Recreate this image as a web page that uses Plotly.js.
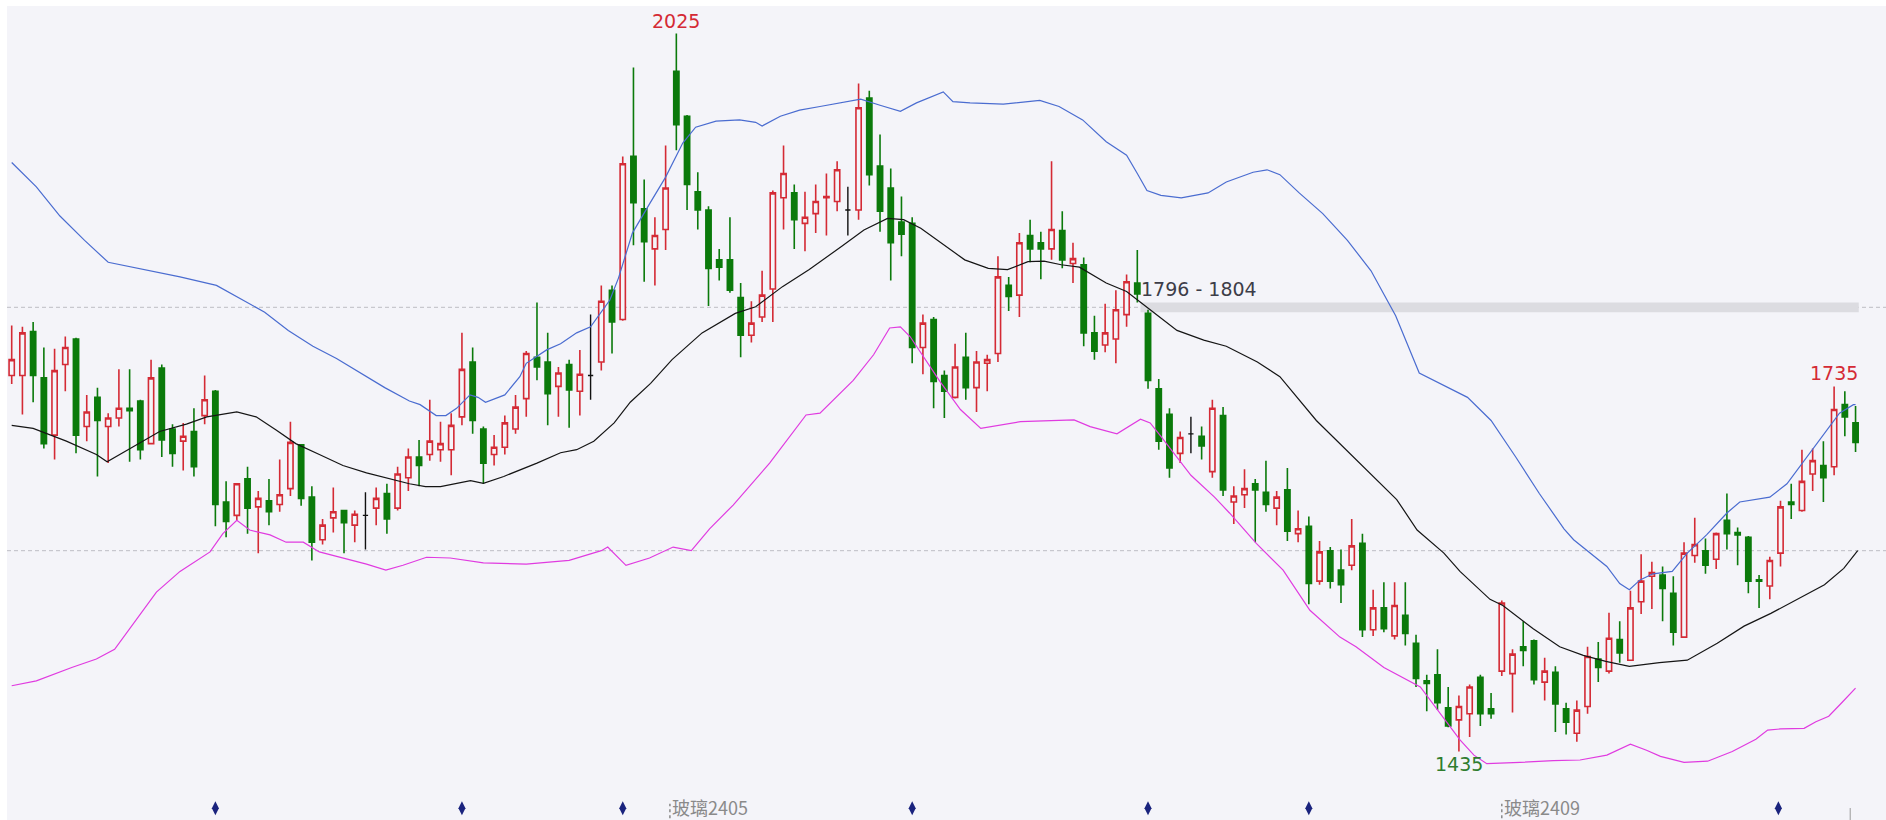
<!DOCTYPE html>
<html>
<head>
<meta charset="utf-8">
<script src="https://cdn.plot.ly/plotly-3.0.1.min.js"></script>
<style>html,body{margin:0;padding:0;background:#ffffff;}#chart{width:1886px;height:820px;}</style>
</head>
<body>
<div id="chart"></div>
<script>
// ---- candle data (index 0..172) ----
var openP = [1744,1744,1780,1742,1695,1753,1774,1702,1726,1702,1709,1717,1723,1688,1750,1700,1690,1698,1711,1731,
1640,1629,1659,1636,1641,1638,1651,1687,1644,1609,1627,1633,1621,1629,1635,1647,1635,1660,1677,1679,
1683,1683,1710,1755,1700,1679,1685,1700,1725,1759,1755,1735,1753,1731,1744,1755,1814,1790,1924,1881,
1848,1864,1994,1957,1895,1880,1839,1839,1808,1777,1792,1815,1890,1894,1869,1877,1890,1887,1880,1880,
1972,1916,1898,1870,1869,1767,1790,1744,1726,1759,1734,1754,1762,1818,1810,1859,1853,1848,1863,1836,
1835,1779,1769,1774,1794,1820,1795,1733,1712,1680,1696,1694,1665,1711,1640,1646,1655,1648,1635,1650,
1614,1620,1575,1600,1584,1588,1606,1535,1553,1530,1547,1524,1493,1498,1471,1461,1466,1496,1470,1501,
1499,1521,1526,1492,1500,1470,1450,1472,1511,1501,1527,1510,1558,1579,1580,1565,1529,1596,1600,1593,
1625,1615,1611,1576,1571,1598,1640,1633,1663,1670,1669,1720,1705];
var highP = [1785,1784,1788,1767,1766,1776,1775,1728,1734,1713,1749,1749,1724,1757,1753,1704,1705,1717,1744,1732,
1657,1655,1669,1649,1659,1675,1706,1687,1653,1626,1652,1633,1633,1648,1652,1655,1669,1684,1691,1724,
1706,1713,1779,1767,1702,1695,1711,1728,1764,1804,1779,1751,1757,1765,1794,1818,1818,1924,1997,1905,
1874,1933,2025,1958,1911,1883,1848,1874,1820,1805,1830,1896,1933,1901,1895,1901,1910,1920,1899,1984,
1978,1942,1914,1891,1874,1794,1792,1748,1770,1779,1764,1761,1842,1825,1861,1872,1862,1920,1879,1853,
1841,1793,1803,1814,1827,1847,1798,1741,1717,1698,1710,1702,1724,1718,1653,1667,1659,1674,1649,1668,
1633,1628,1608,1603,1601,1626,1614,1568,1574,1574,1574,1531,1498,1519,1488,1481,1490,1498,1483,1559,
1519,1542,1527,1512,1505,1475,1477,1521,1525,1549,1542,1567,1597,1591,1587,1579,1607,1627,1610,1615,
1647,1619,1612,1580,1595,1641,1655,1683,1684,1690,1735,1731,1719];
var lowP = [1737,1712,1722,1684,1675,1731,1680,1690,1661,1672,1702,1673,1675,1688,1677,1669,1666,1661,1704,1620,
1611,1625,1614,1598,1621,1632,1645,1637,1592,1605,1615,1598,1607,1601,1621,1614,1633,1649,1653,1674,
1673,1662,1703,1696,1655,1670,1679,1696,1710,1740,1703,1710,1701,1711,1724,1748,1762,1789,1851,1821,
1818,1847,1929,1880,1864,1801,1822,1812,1759,1771,1788,1788,1864,1848,1846,1861,1859,1879,1859,1872,
1900,1862,1822,1842,1754,1745,1717,1709,1725,1724,1714,1731,1755,1797,1792,1837,1823,1839,1832,1820,
1768,1757,1763,1754,1784,1804,1733,1683,1660,1672,1680,1675,1660,1645,1622,1635,1607,1632,1621,1608,
1607,1556,1572,1569,1557,1584,1529,1530,1533,1527,1522,1488,1468,1469,1455,1435,1447,1456,1462,1497,
1467,1505,1490,1477,1451,1449,1443,1466,1492,1499,1508,1510,1548,1552,1542,1522,1529,1590,1581,1585,
1601,1588,1565,1553,1560,1587,1626,1632,1649,1640,1662,1694,1681];
var closeP = [1757,1779,1744,1688,1748,1767,1695,1714,1707,1709,1717,1715,1683,1742,1691,1680,1694,1669,1724,1638,
1624,1655,1635,1643,1632,1646,1689,1643,1607,1621,1632,1623,1630,1629,1643,1626,1663,1677,1670,1690,
1688,1703,1749,1707,1672,1685,1705,1718,1762,1751,1729,1746,1732,1745,1744,1805,1788,1918,1886,1854,
1859,1898,1950,1901,1880,1832,1833,1814,1777,1787,1810,1894,1910,1872,1874,1887,1891,1913,1880,1964,
1909,1879,1853,1860,1767,1787,1739,1731,1751,1734,1755,1757,1825,1809,1853,1848,1848,1864,1839,1840,
1779,1764,1779,1798,1821,1811,1740,1690,1668,1693,1696,1686,1717,1650,1645,1651,1650,1638,1644,1616,
1618,1573,1599,1575,1572,1604,1535,1553,1536,1555,1532,1495,1491,1475,1456,1472,1488,1466,1466,1557,
1515,1518,1494,1501,1474,1459,1469,1513,1504,1528,1516,1553,1575,1582,1569,1533,1598,1605,1588,1614,
1614,1613,1575,1575,1592,1636,1638,1657,1674,1660,1716,1710,1689];

// ---- Bollinger band lines ----
var upperX = [0,2.3,4.5,6.8,9,11.3,15.7,19.1,21.4,23.6,25.8,28.1,30.3,32.6,34.8,37.1,38.1,39.6,40.5,41.5,42.75,43.5,44.2,46,47.4,48,49.9,51.2,52.7,54,54.9,55.8,56.6,57.9,59.5,61,62.6,63.8,65.7,67.9,69.4,70,71.7,73.5,75.4,77.3,79.2,81,82.9,84.4,86.9,87.8,89.4,92.5,95.9,97.7,99.9,102.1,104,105,105.9,107.2,109.1,111.6,113.3,115.8,117.1,118.3,120.1,122.3,124.6,126.8,129.1,131.3,133.6,135.8,138,140.3,142.5,144.8,145.7,148.8,150,150.9,151.9,153.1,154.9,156.3,158.1,160,161.2,164,165.6,166.8,168.1,169.6,170.5,171.8,172];
var upperY = [1919,1899,1875,1855,1837,1833,1825,1818,1807,1796,1781,1768,1758,1746,1734,1723,1720,1711,1711,1717,1728,1726,1722,1728,1743,1754,1765,1770,1779,1784,1795,1806,1824,1861,1885,1907,1935,1948,1953,1954,1952,1949,1957,1962,1965,1968,1971,1966,1961,1968,1977,1969,1968,1967,1970,1965,1954,1936,1925,1910,1896,1892,1890,1894,1903,1911,1913,1909,1894,1877,1855,1830,1793,1746,1736,1726,1707,1677,1647,1618,1609,1587,1573,1568,1576,1581,1583,1598,1613,1631,1640,1644,1655,1669,1684,1702,1713,1720,1720];
var midX = [0,2,5.1,7.9,8.9,11.3,13.8,16.3,18.2,21,22.8,24.7,26.5,28.7,30.9,33.1,35.2,37.1,38.6,40,42.8,44,45.9,49,51.2,52.7,54.3,56.2,57.7,59.6,61.6,64.4,67.5,69.4,71.9,74.4,77.4,79.5,81.7,83.2,84.8,87,88.9,91.1,92.9,94.8,96.3,97.9,99.6,102.1,104,106.2,108.7,111.2,113.3,116.2,118.3,121.7,124.5,127,129.2,131.1,133.6,135.1,137.9,139.1,141.9,144.4,146.6,148.7,150.9,153.7,156.3,159.1,161.6,164.1,166.6,169.1,170.9,172.2];
var midY = [1703,1700.5,1690,1679,1673,1685.5,1698,1704,1710,1714,1710,1699,1688,1679,1670,1664,1659,1655,1652.6,1652.6,1657.5,1655.3,1661,1672,1680.5,1683,1690,1705,1722,1737.5,1757,1779,1795,1800.5,1817,1831,1850,1863.5,1873,1872,1865,1851,1839,1832,1831,1837.5,1838,1835,1833,1820,1813,1798,1781,1773,1768,1755,1743,1707,1683,1661,1642,1617,1598,1583,1560,1555,1536,1521,1514,1509,1505,1508,1510,1524,1538,1548.5,1560,1572,1585.5,1600];
var lowerX = [0,2.3,5.6,7.9,9.6,11.25,13.5,15.7,18.5,19.7,21,22.2,24.1,25.6,27.2,28.7,30.9,33.1,34.9,36.5,38.7,40.9,44,48,52,55,55.6,57.3,59.5,61.7,63.4,65.1,67.3,70.7,74.1,75.4,78.5,80.4,81.9,82.9,83.8,85.1,86.6,88.5,90.4,94.1,97.8,99.1,100.6,103.1,105.3,106.2,107.2,110,112.2,113.6,116.1,118.6,121.1,123.9,125.4,128,131.4,133.3,135.1,136.4,137.6,140.7,143.8,146.3,148.8,151,152.5,153.8,156,158.2,160.5,162.7,163.8,165,167.2,168.3,169.5,170.6,171.7,172];
var lowerY = [1489,1493,1504,1511,1519,1538.5,1566,1583,1599,1614,1625,1617,1613,1607,1607,1599,1594,1589,1584,1588,1594.6,1594,1590,1589,1592,1600,1603,1588,1594,1603,1600,1618,1637.5,1672,1711.5,1713,1740,1761,1783,1784,1776,1759,1739,1716,1700.5,1706,1707.5,1707.5,1702,1696,1708,1705,1694,1662,1644,1631,1606,1584,1551,1529,1521,1504,1488,1466,1444.5,1432,1425,1426,1427.5,1428,1432,1441,1436,1431,1426,1427,1435,1445,1452.6,1453.5,1454,1459.5,1464,1474,1484,1487];

// ---- reference levels, zone and markers ----
var refLevels = [1600, 1800];
var zoneLow = 1796, zoneHigh = 1804, zoneStart = 105.3, zoneEnd = 172.3;
var zoneLabel = "1796 - 1804";
var diamondIdx = [19, 42, 57, 84, 106, 121, 164.8];
var contractLabels = ["玻璃2405", "玻璃2409"];
var contractIdx = [61.4, 139.0];

var RED = '#d42a35', GREEN = '#0b7a0b', BG = '#f4f4f9';

var idx = [];
for (var i = 0; i < closeP.length; i++) idx.push(i);

var main = {x:[],open:[],high:[],low:[],close:[]};
var doji = {x:[],open:[],high:[],low:[],close:[]};
for (var k = 0; k < idx.length; k++) {
  var t = (openP[k] === closeP[k]) ? doji : main;
  t.x.push(idx[k]); t.open.push(openP[k]); t.high.push(highP[k]); t.low.push(lowP[k]); t.close.push(closeP[k]);
}

var traces = [
  {type:'scatter', mode:'lines', x:upperX, y:upperY, line:{color:'#4a6cd0', width:1.2}, hoverinfo:'skip'},
  {type:'scatter', mode:'lines', x:lowerX, y:lowerY, line:{color:'#e03be0', width:1.2}, hoverinfo:'skip'},
  {type:'scatter', mode:'lines', x:midX, y:midY, line:{color:'#151515', width:1.2}, hoverinfo:'skip'},
  {type:'candlestick', x:main.x, open:main.open, high:main.high, low:main.low, close:main.close,
   increasing:{line:{color:RED, width:1.6}, fillcolor:BG},
   decreasing:{line:{color:GREEN, width:1.6}, fillcolor:GREEN},
   whiskerwidth:0, hoverinfo:'skip'},
  {type:'candlestick', x:doji.x, open:doji.open, high:doji.high, low:doji.low, close:doji.close,
   increasing:{line:{color:'#111', width:1.4}, fillcolor:'#111'},
   decreasing:{line:{color:'#111', width:1.4}, fillcolor:'#111'},
   whiskerwidth:0, hoverinfo:'skip'},
  {type:'scatter', mode:'markers', x:diamondIdx, y:diamondIdx.map(function(){return 11.7;}), yaxis:'y2',
   marker:{symbol:'diamond-tall', size:10, color:'#1a237e'}, hoverinfo:'skip'}
];

// max / min annotations
var maxI = 0, minI = 0, lastMaxI = 150;
for (var j = 0; j < highP.length; j++) { if (highP[j] > highP[maxI]) maxI = j; if (lowP[j] < lowP[minI]) minI = j; }
for (var m = 150; m < highP.length; m++) { if (highP[m] > highP[lastMaxI]) lastMaxI = m; }

var labelFont = {family:'DejaVu Sans, Verdana, sans-serif', size:19};
var annotations = [
  {x:maxI, y:highP[maxI], text:String(highP[maxI]), showarrow:false, yanchor:'bottom', xanchor:'center', font:Object.assign({}, labelFont, {color:'#d42a35'})},
  {x:lastMaxI, y:highP[lastMaxI], text:String(highP[lastMaxI]), showarrow:false, yanchor:'bottom', xanchor:'center', font:Object.assign({}, labelFont, {color:'#d42a35'})},
  {x:minI, y:lowP[minI], text:String(lowP[minI]), showarrow:false, yanchor:'top', xanchor:'center', font:Object.assign({}, labelFont, {color:'#2f7d2f'})},
  {x:zoneStart, y:zoneHigh, text:zoneLabel, showarrow:false, yanchor:'bottom', xanchor:'left', xshift:-2, font:Object.assign({}, labelFont, {color:'#3d3d48'})}
];
var shapes = [];
refLevels.forEach(function(v){
  shapes.push({type:'line', xref:'paper', x0:0, x1:1, yref:'y', y0:v, y1:v, layer:'below', line:{color:'#bdbdc4', width:1, dash:'4px,3px'}});
});
shapes.push({type:'rect', xref:'x', x0:zoneStart, x1:zoneEnd, yref:'y', y0:zoneLow, y1:zoneHigh, layer:'below', line:{width:0}, fillcolor:'#dcdce1'});
contractLabels.forEach(function(lbl, n){
  annotations.push({x:contractIdx[n], xref:'x', y:0, yref:'paper', text:lbl, showarrow:false, xanchor:'left', yanchor:'bottom', xshift:1, yshift:-1, borderpad:0,
    font:{family:'Noto Sans CJK SC, sans-serif', size:18, color:'#8a8a8a'}});
  shapes.push({type:'line', xref:'x', x0:contractIdx[n], x1:contractIdx[n], yref:'paper', y0:0.002, y1:0.02, line:{color:'#8a8a8a', width:1.5, dash:'dot'}});
});
shapes.push({type:'line', xref:'x', x0:171.5, x1:171.5, yref:'paper', y0:0, y1:0.0147, line:{color:'#9a9a9a', width:1}});

var layout = {
  width:1886, height:820,
  margin:{l:7, r:0, t:6, b:0, pad:0},
  paper_bgcolor:'#ffffff', plot_bgcolor:BG,
  showlegend:false,
  xaxis:{range:[-0.438, 174.84], visible:false, rangeslider:{visible:false}, fixedrange:true},
  yaxis:{range:[1378.7, 2047.6], visible:false, fixedrange:true},
  yaxis2:{range:[0, 814], overlaying:'y', visible:false, fixedrange:true},
  shapes:shapes,
  annotations:annotations
};
Plotly.newPlot('chart', traces, layout, {displayModeBar:false, staticPlot:true});
</script>
</body>
</html>
